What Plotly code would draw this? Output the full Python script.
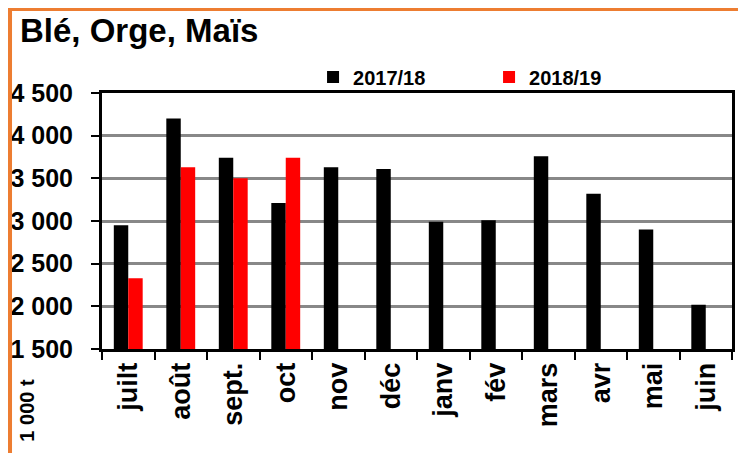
import plotly.graph_objects as go

months = ["juilt", "août", "sept.", "oct", "nov", "déc", "janv", "fév", "mars", "avr", "mai", "juin"]
s2017 = [2950, 4200, 3740, 3210, 3630, 3610, 2990, 3010, 3760, 3320, 2900, 2020]
s2018 = [2330, 3630, 3500, 3740, None, None, None, None, None, None, None, None]
ytick_vals = [1500, 2000, 2500, 3000, 3500, 4000, 4500]
ytick_text = ["1 500", "2 000", "2 500", "3 000", "3 500", "4 000", "4 500"]

FONT = "Liberation Sans, Arial, sans-serif"

fig = go.Figure()
fig.add_trace(go.Bar(x=months, y=s2017, name="2017/18", marker=dict(color="#000000", line=dict(width=0))))
fig.add_trace(go.Bar(x=months, y=s2018, name="2018/19", marker=dict(color="#FF0000", line=dict(width=0))))

fig.update_layout(
    width=730, height=445,
    margin=dict(l=94, r=6, t=85, b=104, autoexpand=False),
    paper_bgcolor="white", plot_bgcolor="white",
    barmode="group", bargap=0.45, bargroupgap=0,
    font=dict(family=FONT, color="black", weight="bold"),
    showlegend=True,
    legend=dict(orientation="h", x=0.335, xanchor="left", y=1.0625, yanchor="middle",
                font=dict(size=20, family=FONT, weight="bold"), entrywidth=131,
                itemwidth=30, bgcolor="rgba(0,0,0,0)", traceorder="normal"),
)
fig.update_xaxes(
    type="category", showline=True, linecolor="black", linewidth=3, mirror=True,
    ticks="outside", tickson="boundaries", ticklen=8, tickwidth=2, tickcolor="black",
    tickangle=-90, tickfont=dict(size=27, family=FONT, weight="bold"), showgrid=False,
    automargin=False,
)
fig.update_yaxes(
    range=[1500, 4500], tickvals=ytick_vals, ticktext=ytick_text,
    showline=True, linecolor="black", linewidth=3, mirror=True,
    ticks="outside", ticklen=8, tickwidth=2, tickcolor="black", ticklabelstandoff=13,
    tickfont=dict(size=25, family=FONT, weight="bold"),
    showgrid=True, gridcolor="#888888", gridwidth=3, zeroline=False, automargin=False,
)

fig.add_annotation(text="Blé, Orge, Maïs", xref="paper", yref="paper", x=-0.1333, y=1.246,
                   xanchor="left", yanchor="middle", showarrow=False,
                   font=dict(size=33, family=FONT, weight="bold", color="black"))
fig.add_annotation(text="1 000 t", xref="paper", yref="paper", x=-0.1195, y=-0.238,
                   xanchor="center", yanchor="middle", textangle=-90, showarrow=False,
                   font=dict(size=20, family=FONT, weight="bold", color="black"))

orange = "#ED7D31"
fig.add_shape(type="line", xref="paper", yref="paper",
              x0=-0.1468, x1=-0.1468, y0=-0.406, y1=1.34375,
              line=dict(color=orange, width=5), layer="above")
fig.add_shape(type="line", xref="paper", yref="paper",
              x0=-0.1508, x1=1.0095, y0=1.332, y1=1.332,
              line=dict(color=orange, width=6), layer="above")

fig.write_html("out.html")
